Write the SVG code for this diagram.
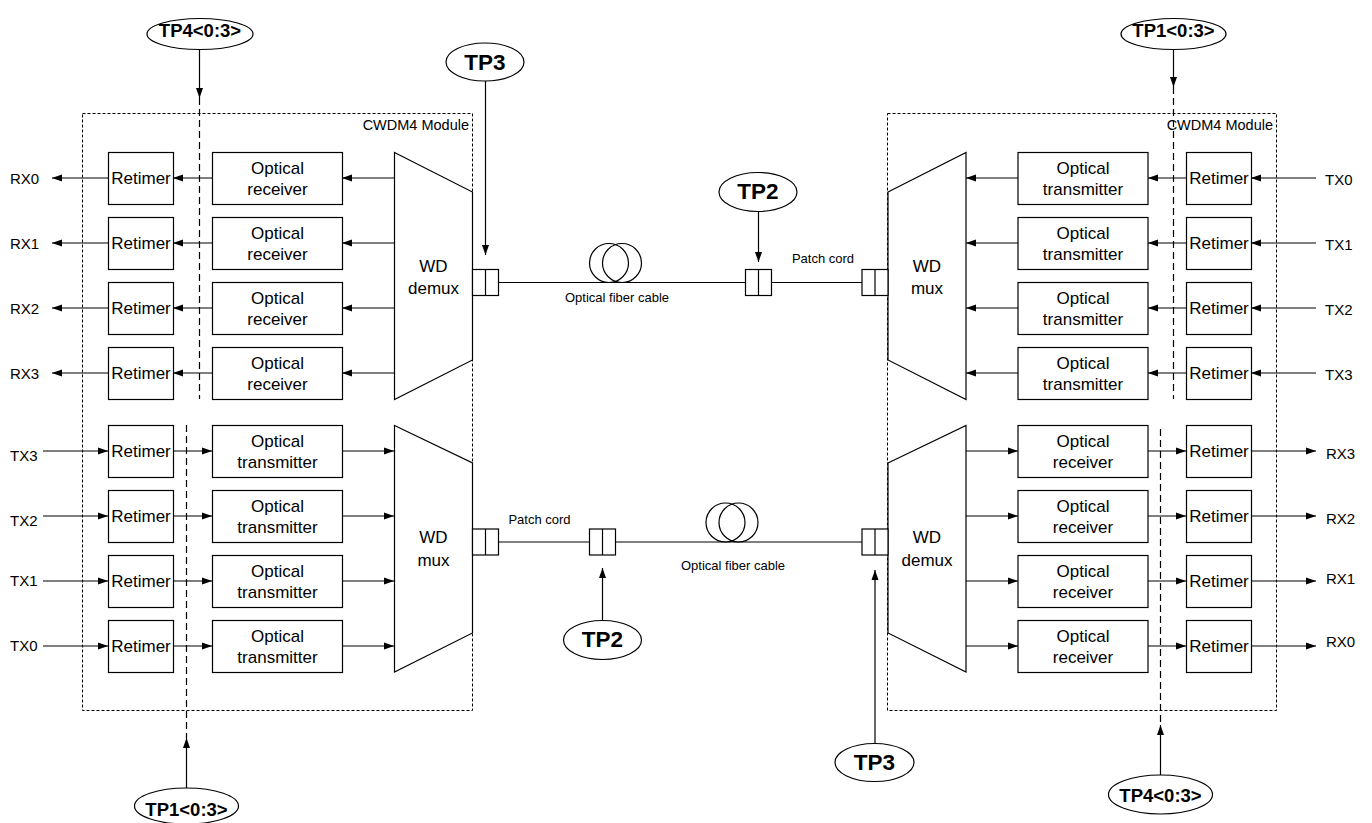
<svg xmlns="http://www.w3.org/2000/svg" width="1372" height="823" viewBox="0 0 1372 823">
<style>
.bx{fill:#fff;stroke:#000;stroke-width:1.2}
.tz{fill:#fff;stroke:#000;stroke-width:1.2}
.mod{fill:none;stroke:#000;stroke-width:1;stroke-dasharray:3 2}
.dl{fill:none;stroke:#000;stroke-width:1.2;stroke-dasharray:7 4}
.ln{fill:none;stroke:#000;stroke-width:1.2}
.ar{fill:none;stroke:#000;stroke-width:1.2;marker-end:url(#ah)}
.el{fill:#fff;stroke:#000;stroke-width:1.2}
.t{font-family:"Liberation Sans",Arial,sans-serif;font-size:17px;fill:#000;text-anchor:middle}
.io{font-family:"Liberation Sans",Arial,sans-serif;font-size:15px;fill:#000}
.sm{font-family:"Liberation Sans",Arial,sans-serif;font-size:13px;fill:#000;text-anchor:middle}
.md{font-family:"Liberation Sans",Arial,sans-serif;font-size:14.5px;fill:#000;text-anchor:end}
.tp{font-family:"Liberation Sans",Arial,sans-serif;font-weight:bold;font-size:18.5px;fill:#000;text-anchor:middle}
.tpb{font-family:"Liberation Sans",Arial,sans-serif;font-weight:bold;font-size:22.5px;fill:#000;text-anchor:middle}
</style>
<defs>
<marker id="ah" markerUnits="userSpaceOnUse" markerWidth="10" markerHeight="8" viewBox="0 0 10 8" refX="10" refY="4" orient="auto">
<path d="M0,0.5 L10,4 L0,7.5 Z" fill="#000"/>
</marker>
</defs>

<!-- Modules -->
<g id="module-left">
<rect class="mod" x="82.5" y="113.5" width="390" height="597"/>
<text class="md" x="469" y="130">CWDM4 Module</text>
</g>
<g id="module-right">
<rect class="mod" x="887.5" y="113.5" width="389" height="597"/>
<text class="md" x="1273" y="130">CWDM4 Module</text>
</g>

<!-- Connectors -->
<g id="connectors">
<line class="dl" x1="199.5" y1="98" x2="199.5" y2="399"/>
<line class="dl" x1="1173.5" y1="87" x2="1173.5" y2="399"/>
<line class="dl" x1="186.5" y1="425" x2="186.5" y2="738"/>
<line class="dl" x1="1160.5" y1="429" x2="1160.5" y2="725"/>
<line class="ar" x1="199.5" y1="49.5" x2="199.5" y2="98"/>
<line class="ar" x1="1173.5" y1="49.5" x2="1173.5" y2="87"/>
<line class="ar" x1="186.5" y1="788" x2="186.5" y2="738"/>
<line class="ar" x1="1160.5" y1="775" x2="1160.5" y2="725"/>
<line class="ar" x1="485.5" y1="81" x2="485.5" y2="255"/>
<line class="ar" x1="758.5" y1="211.5" x2="758.5" y2="262"/>
<line class="ar" x1="602.5" y1="620.5" x2="602.5" y2="568"/>
<line class="ar" x1="875" y1="743.5" x2="875" y2="570"/>
<line class="ln" x1="498" y1="282.5" x2="745" y2="282.5"/>
<line class="ln" x1="771" y1="282.5" x2="862" y2="282.5"/>
<line class="ln" x1="498" y1="542" x2="589" y2="542"/>
<line class="ln" x1="615" y1="542" x2="862" y2="542"/>
<line class="ar" x1="394" y1="178" x2="342" y2="178"/>
<line class="ar" x1="212" y1="178" x2="173" y2="178"/>
<line class="ar" x1="108" y1="178" x2="52" y2="178"/>
<line class="ar" x1="394" y1="243" x2="342" y2="243"/>
<line class="ar" x1="212" y1="243" x2="173" y2="243"/>
<line class="ar" x1="108" y1="243" x2="52" y2="243"/>
<line class="ar" x1="394" y1="308" x2="342" y2="308"/>
<line class="ar" x1="212" y1="308" x2="173" y2="308"/>
<line class="ar" x1="108" y1="308" x2="52" y2="308"/>
<line class="ar" x1="394" y1="373" x2="342" y2="373"/>
<line class="ar" x1="212" y1="373" x2="173" y2="373"/>
<line class="ar" x1="108" y1="373" x2="52" y2="373"/>
<line class="ar" x1="43" y1="451" x2="108" y2="451"/>
<line class="ar" x1="173" y1="451" x2="212" y2="451"/>
<line class="ar" x1="342" y1="451" x2="394" y2="451"/>
<line class="ar" x1="43" y1="516" x2="108" y2="516"/>
<line class="ar" x1="173" y1="516" x2="212" y2="516"/>
<line class="ar" x1="342" y1="516" x2="394" y2="516"/>
<line class="ar" x1="43" y1="581" x2="108" y2="581"/>
<line class="ar" x1="173" y1="581" x2="212" y2="581"/>
<line class="ar" x1="342" y1="581" x2="394" y2="581"/>
<line class="ar" x1="43" y1="646" x2="108" y2="646"/>
<line class="ar" x1="173" y1="646" x2="212" y2="646"/>
<line class="ar" x1="342" y1="646" x2="394" y2="646"/>
<line class="ar" x1="1316" y1="178" x2="1251" y2="178"/>
<line class="ar" x1="1186" y1="178" x2="1148" y2="178"/>
<line class="ar" x1="1018" y1="178" x2="966" y2="178"/>
<line class="ar" x1="1316" y1="243" x2="1251" y2="243"/>
<line class="ar" x1="1186" y1="243" x2="1148" y2="243"/>
<line class="ar" x1="1018" y1="243" x2="966" y2="243"/>
<line class="ar" x1="1316" y1="308" x2="1251" y2="308"/>
<line class="ar" x1="1186" y1="308" x2="1148" y2="308"/>
<line class="ar" x1="1018" y1="308" x2="966" y2="308"/>
<line class="ar" x1="1316" y1="373" x2="1251" y2="373"/>
<line class="ar" x1="1186" y1="373" x2="1148" y2="373"/>
<line class="ar" x1="1018" y1="373" x2="966" y2="373"/>
<line class="ar" x1="966" y1="451" x2="1018" y2="451"/>
<line class="ar" x1="1148" y1="451" x2="1186" y2="451"/>
<line class="ar" x1="1251" y1="451" x2="1316" y2="451"/>
<line class="ar" x1="966" y1="516" x2="1018" y2="516"/>
<line class="ar" x1="1148" y1="516" x2="1186" y2="516"/>
<line class="ar" x1="1251" y1="516" x2="1316" y2="516"/>
<line class="ar" x1="966" y1="581" x2="1018" y2="581"/>
<line class="ar" x1="1148" y1="581" x2="1186" y2="581"/>
<line class="ar" x1="1251" y1="581" x2="1316" y2="581"/>
<line class="ar" x1="966" y1="646" x2="1018" y2="646"/>
<line class="ar" x1="1148" y1="646" x2="1186" y2="646"/>
<line class="ar" x1="1251" y1="646" x2="1316" y2="646"/>
</g>

<!-- IO labels -->
<g id="io-labels">
<text class="io" x="10" y="183.5">RX0</text>
<text class="io" x="10" y="248.5">RX1</text>
<text class="io" x="10" y="313.5">RX2</text>
<text class="io" x="10" y="378.5">RX3</text>
<text class="io" x="10" y="460.5">TX3</text>
<text class="io" x="10" y="525.5">TX2</text>
<text class="io" x="10" y="585.5">TX1</text>
<text class="io" x="10" y="651">TX0</text>
<text class="io" x="1325" y="184.5">TX0</text>
<text class="io" x="1325" y="249.5">TX1</text>
<text class="io" x="1325" y="314.5">TX2</text>
<text class="io" x="1325" y="379.5">TX3</text>
<text class="io" x="1326" y="458.5">RX3</text>
<text class="io" x="1326" y="523.5">RX2</text>
<text class="io" x="1326" y="583.5">RX1</text>
<text class="io" x="1326" y="647">RX0</text>
</g>

<g id="l-ret-rx0"><rect class="bx" x="108.5" y="152.5" width="65" height="52"/><text class="t" x="141" y="184">Retimer</text></g>
<g id="l-ret-rx1"><rect class="bx" x="108.5" y="217.5" width="65" height="52"/><text class="t" x="141" y="249">Retimer</text></g>
<g id="l-ret-rx2"><rect class="bx" x="108.5" y="282.5" width="65" height="52"/><text class="t" x="141" y="314">Retimer</text></g>
<g id="l-ret-rx3"><rect class="bx" x="108.5" y="347.5" width="65" height="52"/><text class="t" x="141" y="379">Retimer</text></g>
<g id="l-orx0"><rect class="bx" x="212.5" y="152.5" width="130" height="52"/><text class="t" x="277.5" y="173.5">Optical</text><text class="t" x="277.5" y="194.5">receiver</text></g>
<g id="l-orx1"><rect class="bx" x="212.5" y="217.5" width="130" height="52"/><text class="t" x="277.5" y="238.5">Optical</text><text class="t" x="277.5" y="259.5">receiver</text></g>
<g id="l-orx2"><rect class="bx" x="212.5" y="282.5" width="130" height="52"/><text class="t" x="277.5" y="303.5">Optical</text><text class="t" x="277.5" y="324.5">receiver</text></g>
<g id="l-orx3"><rect class="bx" x="212.5" y="347.5" width="130" height="52"/><text class="t" x="277.5" y="368.5">Optical</text><text class="t" x="277.5" y="389.5">receiver</text></g>
<g id="l-demux"><polygon class="tz" points="394.5,152.5 472.5,192 472.5,360 394.5,399.5"/><text class="t" x="433.5" y="272">WD</text><text class="t" x="433.5" y="294">demux</text></g>

<g id="l-ret-tx3"><rect class="bx" x="108.5" y="425.5" width="65" height="52"/><text class="t" x="141" y="457">Retimer</text></g>
<g id="l-ret-tx2"><rect class="bx" x="108.5" y="490.5" width="65" height="52"/><text class="t" x="141" y="522">Retimer</text></g>
<g id="l-ret-tx1"><rect class="bx" x="108.5" y="555.5" width="65" height="52"/><text class="t" x="141" y="587">Retimer</text></g>
<g id="l-ret-tx0"><rect class="bx" x="108.5" y="620.5" width="65" height="52"/><text class="t" x="141" y="652">Retimer</text></g>
<g id="l-otx3"><rect class="bx" x="212.5" y="425.5" width="130" height="52"/><text class="t" x="277.5" y="446.5">Optical</text><text class="t" x="277.5" y="467.5">transmitter</text></g>
<g id="l-otx2"><rect class="bx" x="212.5" y="490.5" width="130" height="52"/><text class="t" x="277.5" y="511.5">Optical</text><text class="t" x="277.5" y="532.5">transmitter</text></g>
<g id="l-otx1"><rect class="bx" x="212.5" y="555.5" width="130" height="52"/><text class="t" x="277.5" y="576.5">Optical</text><text class="t" x="277.5" y="597.5">transmitter</text></g>
<g id="l-otx0"><rect class="bx" x="212.5" y="620.5" width="130" height="52"/><text class="t" x="277.5" y="641.5">Optical</text><text class="t" x="277.5" y="662.5">transmitter</text></g>
<g id="l-mux"><polygon class="tz" points="394.5,425.5 472.5,463 472.5,633 394.5,672"/><text class="t" x="433.5" y="543">WD</text><text class="t" x="433.5" y="565.5">mux</text></g>

<g id="r-otx0"><rect class="bx" x="1018" y="152.5" width="130" height="52"/><text class="t" x="1083" y="173.5">Optical</text><text class="t" x="1083" y="194.5">transmitter</text></g>
<g id="r-otx1"><rect class="bx" x="1018" y="217.5" width="130" height="52"/><text class="t" x="1083" y="238.5">Optical</text><text class="t" x="1083" y="259.5">transmitter</text></g>
<g id="r-otx2"><rect class="bx" x="1018" y="282.5" width="130" height="52"/><text class="t" x="1083" y="303.5">Optical</text><text class="t" x="1083" y="324.5">transmitter</text></g>
<g id="r-otx3"><rect class="bx" x="1018" y="347.5" width="130" height="52"/><text class="t" x="1083" y="368.5">Optical</text><text class="t" x="1083" y="389.5">transmitter</text></g>
<g id="r-ret-tx0"><rect class="bx" x="1186.5" y="152.5" width="65" height="52"/><text class="t" x="1219" y="184">Retimer</text></g>
<g id="r-ret-tx1"><rect class="bx" x="1186.5" y="217.5" width="65" height="52"/><text class="t" x="1219" y="249">Retimer</text></g>
<g id="r-ret-tx2"><rect class="bx" x="1186.5" y="282.5" width="65" height="52"/><text class="t" x="1219" y="314">Retimer</text></g>
<g id="r-ret-tx3"><rect class="bx" x="1186.5" y="347.5" width="65" height="52"/><text class="t" x="1219" y="379">Retimer</text></g>
<g id="r-mux"><polygon class="tz" points="888,192 966,152.5 966,399.5 888,360"/><text class="t" x="927" y="272">WD</text><text class="t" x="927" y="294">mux</text></g>

<g id="r-orx3"><rect class="bx" x="1018" y="425.5" width="130" height="52"/><text class="t" x="1083" y="446.5">Optical</text><text class="t" x="1083" y="467.5">receiver</text></g>
<g id="r-orx2"><rect class="bx" x="1018" y="490.5" width="130" height="52"/><text class="t" x="1083" y="511.5">Optical</text><text class="t" x="1083" y="532.5">receiver</text></g>
<g id="r-orx1"><rect class="bx" x="1018" y="555.5" width="130" height="52"/><text class="t" x="1083" y="576.5">Optical</text><text class="t" x="1083" y="597.5">receiver</text></g>
<g id="r-orx0"><rect class="bx" x="1018" y="620.5" width="130" height="52"/><text class="t" x="1083" y="641.5">Optical</text><text class="t" x="1083" y="662.5">receiver</text></g>
<g id="r-ret-rx3"><rect class="bx" x="1186.5" y="425.5" width="65" height="52"/><text class="t" x="1219" y="457">Retimer</text></g>
<g id="r-ret-rx2"><rect class="bx" x="1186.5" y="490.5" width="65" height="52"/><text class="t" x="1219" y="522">Retimer</text></g>
<g id="r-ret-rx1"><rect class="bx" x="1186.5" y="555.5" width="65" height="52"/><text class="t" x="1219" y="587">Retimer</text></g>
<g id="r-ret-rx0"><rect class="bx" x="1186.5" y="620.5" width="65" height="52"/><text class="t" x="1219" y="652">Retimer</text></g>
<g id="r-demux"><polygon class="tz" points="888,463 966,425.5 966,672 888,633"/><text class="t" x="927" y="543">WD</text><text class="t" x="927" y="565.5">demux</text></g>

<g id="conn-top-left"><rect class="bx" x="472.5" y="269.5" width="26" height="26"/><line class="ln" x1="485.5" y1="269.5" x2="485.5" y2="295.5"/></g>
<g id="conn-top-mid"><rect class="bx" x="745.5" y="269.5" width="26" height="26"/><line class="ln" x1="758.5" y1="269.5" x2="758.5" y2="295.5"/></g>
<g id="conn-top-right"><rect class="bx" x="862" y="269.5" width="26" height="26"/><line class="ln" x1="875" y1="269.5" x2="875" y2="295.5"/></g>
<g id="conn-bot-left"><rect class="bx" x="472.5" y="529" width="26" height="26"/><line class="ln" x1="485.5" y1="529" x2="485.5" y2="555"/></g>
<g id="conn-bot-mid"><rect class="bx" x="589.5" y="529" width="26" height="26"/><line class="ln" x1="602.5" y1="529" x2="602.5" y2="555"/></g>
<g id="conn-bot-right"><rect class="bx" x="862" y="529" width="26" height="26"/><line class="ln" x1="875" y1="529" x2="875" y2="555"/></g>

<g id="fiber-top">
<circle class="ln" cx="609" cy="263" r="19.5"/><circle class="ln" cx="622" cy="263" r="19.5"/>
<text class="sm" x="617" y="302">Optical fiber cable</text>
<text class="sm" x="823" y="263">Patch cord</text>
</g>
<g id="fiber-bottom">
<circle class="ln" cx="725.5" cy="522.5" r="19.5"/><circle class="ln" cx="738.5" cy="522.5" r="19.5"/>
<text class="sm" x="733" y="570">Optical fiber cable</text>
<text class="sm" x="539.5" y="524">Patch cord</text>
</g>

<g id="tp4-top"><ellipse class="el" cx="200" cy="34" rx="53" ry="15.5"/><text class="tp" x="200" y="37">TP4&lt;0:3&gt;</text></g>
<g id="tp1-top"><ellipse class="el" cx="1173.5" cy="34" rx="52.5" ry="15.5"/><text class="tp" x="1173.5" y="37">TP1&lt;0:3&gt;</text></g>
<g id="tp3-top"><ellipse class="el" cx="485" cy="62" rx="39" ry="19"/><text class="tpb" x="485" y="69.5">TP3</text></g>
<g id="tp2-top"><ellipse class="el" cx="758" cy="192" rx="39" ry="19.5"/><text class="tpb" x="758" y="199">TP2</text></g>
<g id="tp2-bottom"><ellipse class="el" cx="602.5" cy="640" rx="39" ry="19.5"/><text class="tpb" x="602.5" y="647">TP2</text></g>
<g id="tp3-bottom"><ellipse class="el" cx="874.5" cy="762.5" rx="39.5" ry="19"/><text class="tpb" x="874.5" y="769.5">TP3</text></g>
<g id="tp1-bottom"><ellipse class="el" cx="186.5" cy="806" rx="52" ry="18"/><text class="tp" x="186.5" y="815.5">TP1&lt;0:3&gt;</text></g>
<g id="tp4-bottom"><ellipse class="el" cx="1160.5" cy="794.5" rx="52" ry="19.5"/><text class="tp" x="1160.5" y="801.5">TP4&lt;0:3&gt;</text></g>
</svg>
